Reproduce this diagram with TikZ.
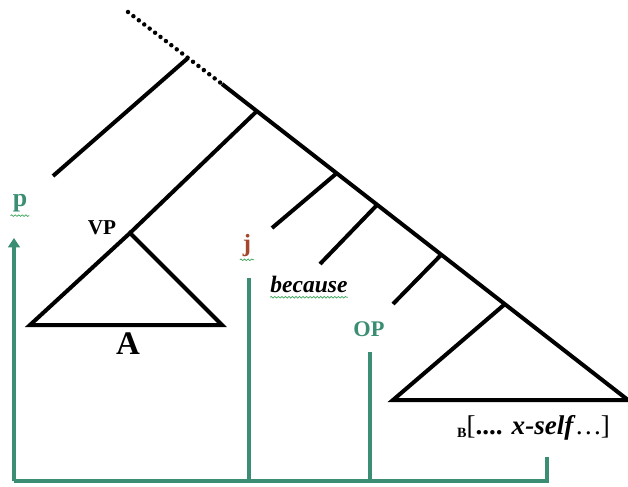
\documentclass[tikz,border=0pt]{standalone}
\usepackage{fontspec}
\setmainfont{Liberation Serif}
\usepackage{tikz}
\usetikzlibrary{arrows.meta, decorations.pathmorphing}
\definecolor{treeGreen}{HTML}{3B8E74}
\definecolor{wordGreen}{HTML}{3CA65A}
\definecolor{indexRed}{HTML}{A5452C}

\begin{document}
\begin{tikzpicture}[x=0.85pt, y=-0.85pt,
    branch/.style={line width=3.4pt, black},
    dotbranch/.style={line width=3.8pt, black, line cap=round, dash pattern=on 0pt off 5.8pt},
    gline/.style={line width=3.3pt, treeGreen},
    garr/.style={gline, -{Triangle[length=8pt, width=10pt]}},
    squiggle/.style={wordGreen, line width=0.6pt, decorate, decoration={snake, amplitude=0.7pt, segment length=3pt}},
    lbl/.style={inner sep=0pt, font=\bfseries}
  ]
  \useasboundingbox (0,0) rectangle (628,486);

  % spine and branches
  \coordinate (top) at (128,12);
  \coordinate (d1) at (188,58);
  \coordinate (s0) at (222,84);
  \coordinate (s1) at (257,111);
  \coordinate (s2) at (337,173);
  \coordinate (s3) at (377,205);
  \coordinate (s4) at (441,255);
  \coordinate (s5) at (505,304);
  \coordinate (s6) at (628,400);
  \coordinate (l0) at (53,176);
  \coordinate (l2) at (272,228);
  \coordinate (l3) at (320,264);
  \coordinate (l4) at (393,304);
  \coordinate (vptop) at (130,233);
  \coordinate (vpleft) at (30,325);
  \coordinate (vpright) at (222,325);
  \coordinate (bleft) at (393,400);

  \draw[dotbranch] (top) -- (s0);
  \draw[branch] (s0) -- (s6);
  \draw[branch] (d1) -- (l0);
  \draw[branch] (s1) -- (vptop);
  \draw[branch] (s2) -- (l2);
  \draw[branch] (s3) -- (l3);
  \draw[branch] (s4) -- (l4);
  \draw[branch, line join=miter] (s5) -- (bleft) -- (s6);
  \draw[branch, line join=miter] (vptop) -- (vpleft) -- (vpright) -- cycle;

  % labels
  \node[lbl, text=treeGreen, font=\bfseries\fontsize{22}{24}\selectfont] (p) at (20,203) {p};
  \node[lbl, font=\bfseries\fontsize{18}{20}\selectfont] (vp) at (102,228) {VP};
  \node[lbl, text=indexRed, font=\bfseries\fontsize{21}{24}\selectfont] (j) at (247,246) {j};
  \node[lbl, font=\bfseries\itshape\fontsize{20}{22}\selectfont] (because) at (309,284) {because};
  \node[lbl, text=treeGreen, font=\bfseries\fontsize{19}{22}\selectfont] (op) at (369,329) {OP};
  \node[lbl, font=\bfseries\fontsize{28}{30}\selectfont] (a) at (128,344) {A};
  \node[lbl, anchor=base west, font=\fontsize{23}{26}\selectfont] (bseg) at (457,434)
    {\raisebox{-3pt}{\bfseries\fontsize{12}{13}\selectfont B}[\textbf{.... \textit{x-self}}\kern1pt\textit{…}]};

  % green index lines
  \coordinate (gbl) at (14,481);
  \coordinate (gbr) at (547,481);
  \coordinate (ptip) at (14,238);
  \coordinate (jtop) at (249,278);
  \coordinate (jbot) at (249,481);
  \coordinate (optop) at (370,352);
  \coordinate (opbot) at (370,481);
  \coordinate (bend) at (547,457);

  \draw[garr] (gbl) -- (ptip);
  \draw[gline, line join=miter] (gbl) -- (gbr) -- (bend);
  \draw[gline] (jtop) -- (jbot);
  \draw[gline] (optop) -- (opbot);

  % squiggles
  \draw[squiggle] ([xshift=-8pt, yshift=-3pt]p.south) -- ([xshift=8pt, yshift=-3pt]p.south);
  \draw[squiggle] ([xshift=-6pt, yshift=-2pt]j.south) -- ([xshift=6pt, yshift=-2pt]j.south);
  \draw[squiggle] ([yshift=-4pt]because.south west) -- ([yshift=-4pt]because.south east);
\end{tikzpicture}
\end{document}
